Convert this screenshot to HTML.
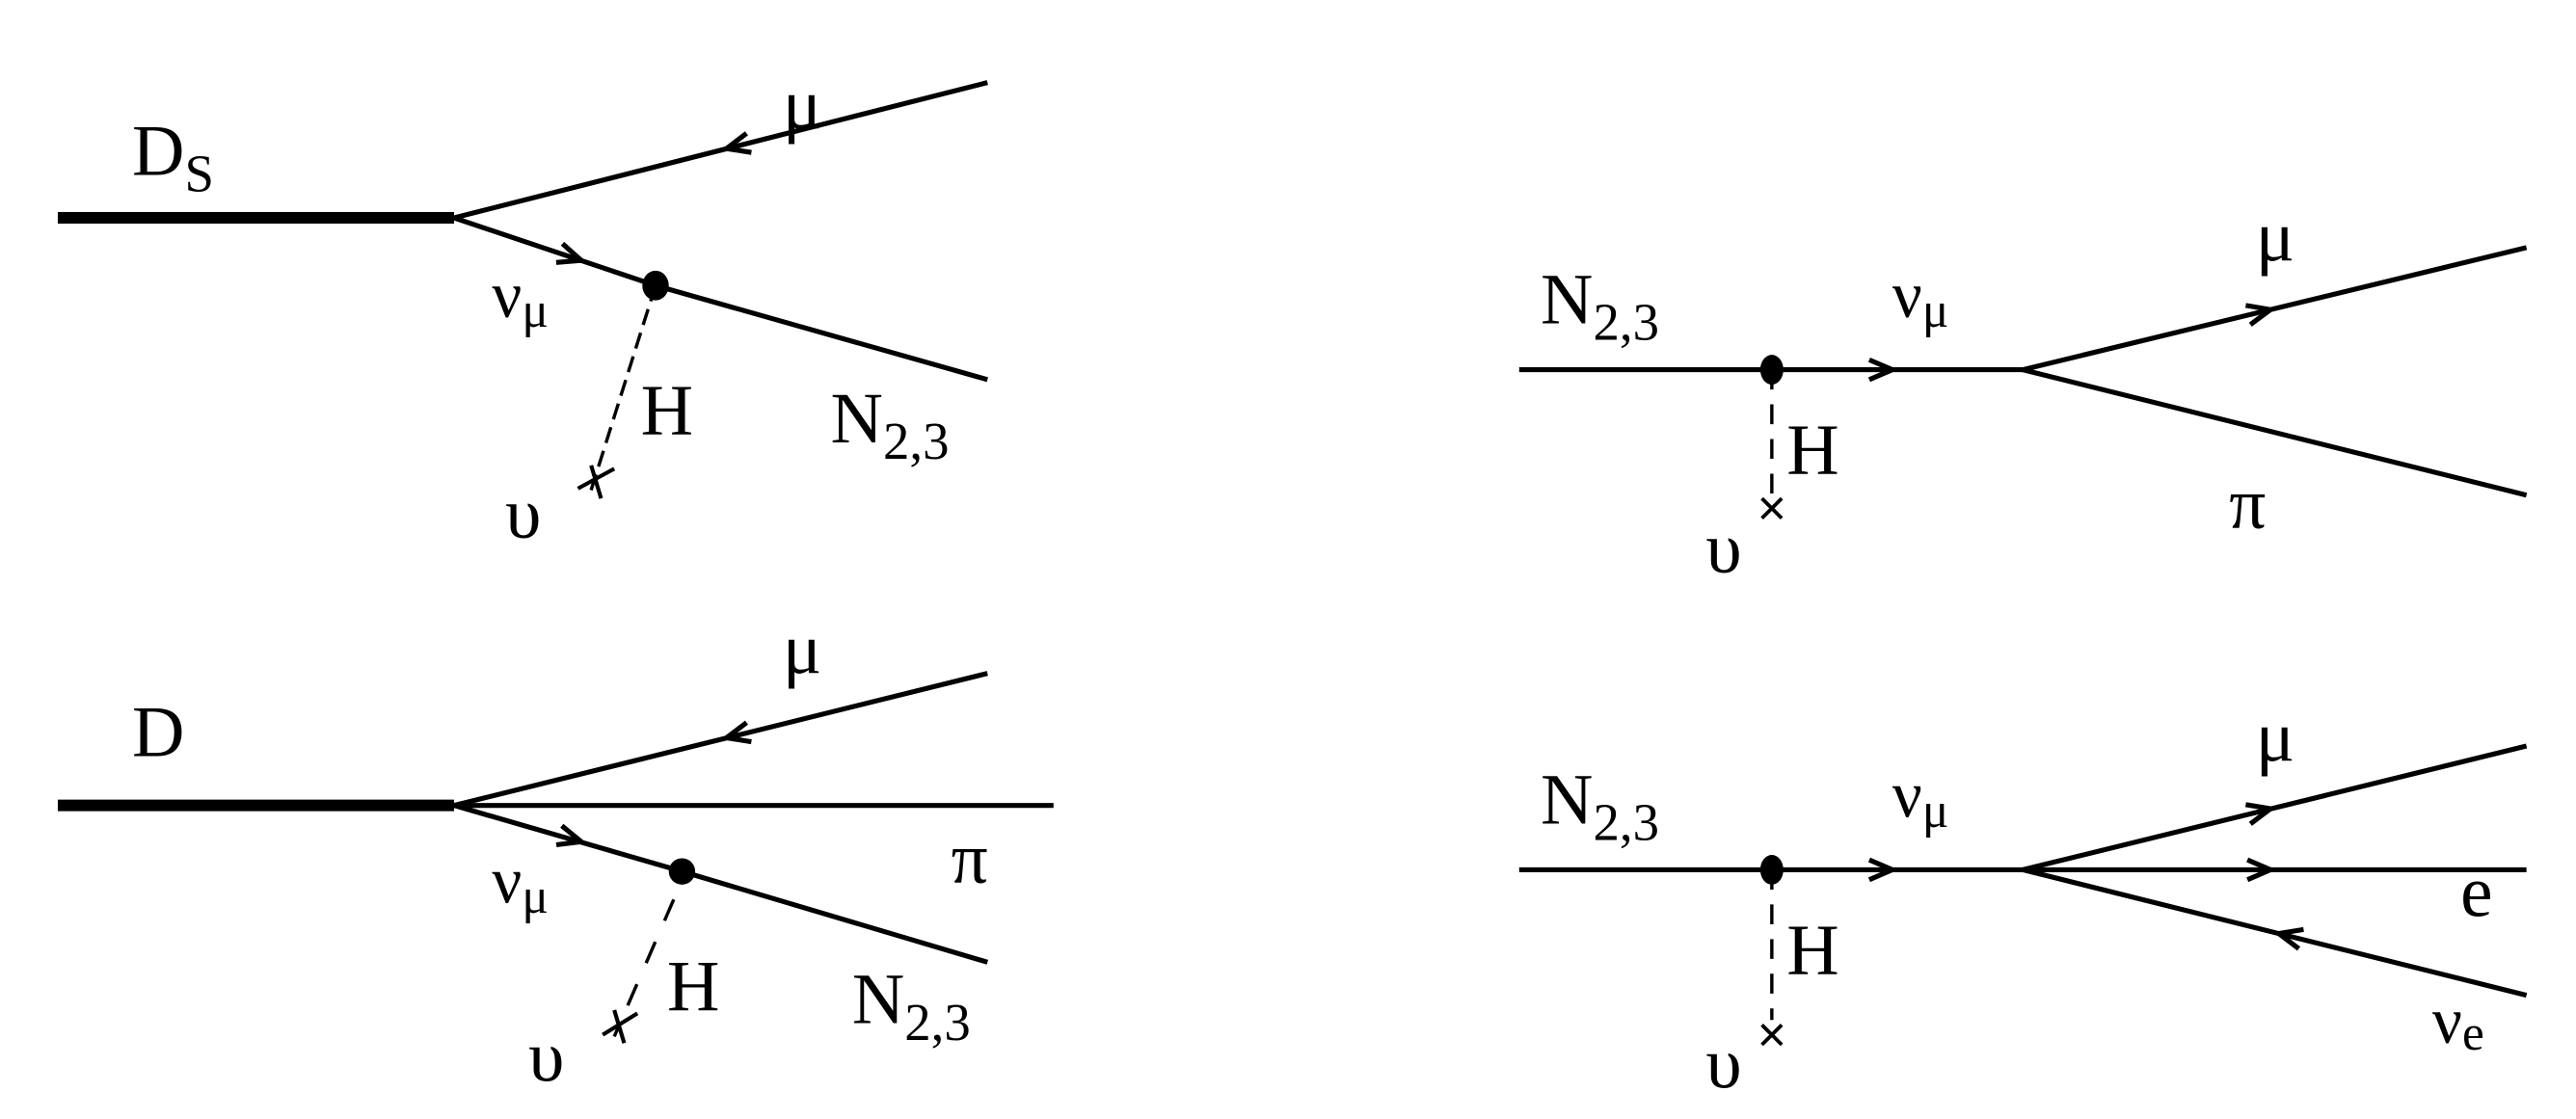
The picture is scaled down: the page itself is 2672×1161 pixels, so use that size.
<!DOCTYPE html>
<html><head><meta charset="utf-8"><style>
html,body{margin:0;padding:0;background:#fff;}
svg{display:block;}
text{font-family:"Liberation Serif",serif;fill:#000;}
</style></head><body>
<svg width="2672" height="1161" viewBox="0 0 1560 678" preserveAspectRatio="none" xmlns="http://www.w3.org/2000/svg">
<g stroke="#000" stroke-width="3" fill="none" stroke-linecap="butt">
<!-- top-left -->
<line x1="35" y1="132" x2="275" y2="132" stroke-width="7"/>
<line x1="275" y1="132" x2="598" y2="50"/>
<line x1="275" y1="132" x2="397" y2="173"/>
<line x1="397" y1="173" x2="598" y2="230"/>
<line x1="397" y1="173" x2="357" y2="300" stroke-dasharray="10,5" stroke-width="2"/>
<line x1="350" y1="296" x2="372" y2="284" stroke-width="2.4"/>
<line x1="358" y1="282" x2="364" y2="302" stroke-width="2.4"/>
<g transform="translate(440,90) rotate(165.8)"><polyline points="-14,-6 0,0 -14,6"/></g>
<g transform="translate(352,157.8) rotate(18.6)"><polyline points="-14,-6 0,0 -14,6"/></g>
<!-- bottom-left -->
<line x1="35" y1="488" x2="275" y2="488" stroke-width="7"/>
<line x1="275" y1="488" x2="598" y2="408"/>
<line x1="275" y1="488" x2="638" y2="488"/>
<line x1="275" y1="488" x2="413" y2="528"/>
<line x1="413" y1="528" x2="598" y2="583"/>
<line x1="408" y1="545" x2="372" y2="628" stroke-dasharray="14,14" stroke-width="2"/>
<line x1="365" y1="627" x2="386" y2="614" stroke-width="2.4"/>
<line x1="372" y1="612" x2="378" y2="632" stroke-width="2.4"/>
<g transform="translate(440,447) rotate(166.1)"><polyline points="-14,-6 0,0 -14,6"/></g>
<g transform="translate(352,510) rotate(16.2)"><polyline points="-14,-6 0,0 -14,6"/></g>
<!-- top-right -->
<line x1="920" y1="224" x2="1225" y2="224"/>
<line x1="1225" y1="224" x2="1530" y2="150"/>
<line x1="1225" y1="224" x2="1530" y2="300"/>
<line x1="1073" y1="224" x2="1073" y2="300" stroke-dasharray="12,9" stroke-width="2"/>
<line x1="1067" y1="302" x2="1079" y2="314" stroke-width="2.2"/>
<line x1="1079" y1="302" x2="1067" y2="314" stroke-width="2.2"/>
<g transform="translate(1146,224)"><polyline points="-14,-6 0,0 -14,6"/></g>
<g transform="translate(1375,187.6) rotate(-13.6)"><polyline points="-14,-6 0,0 -14,6"/></g>
<!-- bottom-right -->
<line x1="920" y1="527" x2="1225" y2="527"/>
<line x1="1225" y1="527" x2="1530" y2="452"/>
<line x1="1225" y1="527" x2="1530" y2="527"/>
<line x1="1225" y1="527" x2="1530" y2="603"/>
<line x1="1073" y1="527" x2="1073" y2="618" stroke-dasharray="12,9" stroke-width="2"/>
<line x1="1067" y1="621" x2="1079" y2="633" stroke-width="2.2"/>
<line x1="1079" y1="621" x2="1067" y2="633" stroke-width="2.2"/>
<g transform="translate(1146,527)"><polyline points="-14,-6 0,0 -14,6"/></g>
<g transform="translate(1375,490) rotate(-13.8)"><polyline points="-14,-6 0,0 -14,6"/></g>
<g transform="translate(1375,527)"><polyline points="-14,-6 0,0 -14,6"/></g>
<g transform="translate(1380,565.6) rotate(194)"><polyline points="-14,-6 0,0 -14,6"/></g>
</g>
<g fill="#000">
<ellipse cx="397" cy="173" rx="8" ry="9"/>
<ellipse cx="413" cy="528" rx="8" ry="8"/>
<ellipse cx="1073" cy="224" rx="7" ry="9"/>
<ellipse cx="1073" cy="527" rx="7" ry="9"/>
</g>
<g font-size="44">
<text x="80" y="106">D<tspan font-size="32" dy="10">S</tspan></text>
<text x="474" y="78">μ</text>
<text x="298" y="192" font-size="40">ν<tspan font-size="30" dy="6">μ</tspan></text>
<text x="388" y="263">H</text>
<text x="503" y="268">N<tspan font-size="32" dy="10">2,3</tspan></text>
<text x="306" y="326">υ</text>

<text x="80" y="458">D</text>
<text x="474" y="408">μ</text>
<text x="576" y="535">π</text>
<text x="298" y="547" font-size="40">ν<tspan font-size="30" dy="6">μ</tspan></text>
<text x="404" y="612">H</text>
<text x="516" y="620">N<tspan font-size="32" dy="10">2,3</tspan></text>
<text x="320" y="655">υ</text>

<text x="933" y="196">N<tspan font-size="32" dy="10">2,3</tspan></text>
<text x="1146" y="192" font-size="40">ν<tspan font-size="30" dy="6">μ</tspan></text>
<text x="1366" y="158">μ</text>
<text x="1082" y="287">H</text>
<text x="1350" y="320">π</text>
<text x="1033" y="347">υ</text>

<text x="933" y="499">N<tspan font-size="32" dy="10">2,3</tspan></text>
<text x="1146" y="495" font-size="40">ν<tspan font-size="30" dy="6">μ</tspan></text>
<text x="1366" y="461">μ</text>
<text x="1082" y="590">H</text>
<text x="1490" y="555">e</text>
<text x="1473" y="632" font-size="40">ν<tspan font-size="30" dy="4">e</tspan></text>
<text x="1033" y="659">υ</text>
</g>
</svg>
</body></html>
